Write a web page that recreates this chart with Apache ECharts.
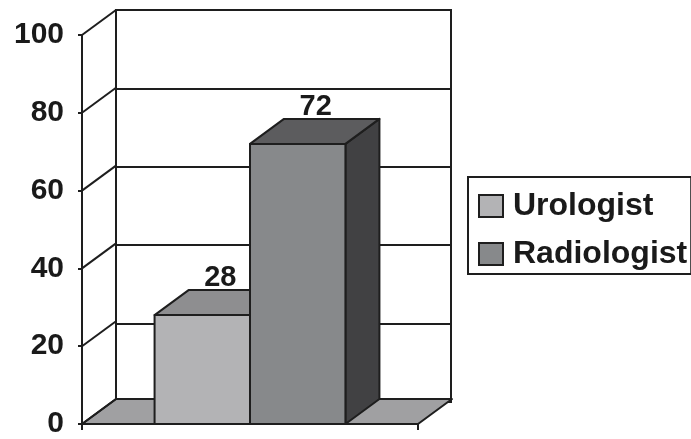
<!DOCTYPE html>
<html>
<head>
<meta charset="utf-8">
<script src="https://cdn.jsdelivr.net/npm/echarts@6/dist/echarts.min.js"></script>
<style>
  html, body { margin: 0; padding: 0; background: #fff; }
  #chart { width: 691px; height: 439px; }
</style>
</head>
<body>
<div id="chart"></div>
<script>
// Chart data
const categories = [''];
const seriesNames = ['Urologist', 'Radiologist'];
const urologistValues = [28];
const radiologistValues = [72];
const yTicks = [0, 20, 40, 60, 80, 100];

// Look of the 3-D box
const DEPTH_X = 34;
const DEPTH_Y = -25;
const BAR_SHARE = 0.284;        // each bar's share of the category width
const FONT = '"Liberation Sans", Arial, sans-serif';
const LINE = '#1e1e1e';

const faceColors = {
  Urologist:   { front: '#b3b3b5', top: '#8e8e90', side: '#7a7a7c' },
  Radiologist: { front: '#87898b', top: '#5c5c5e', side: '#414143' }
};

const chart = echarts.init(document.getElementById('chart'), null, { renderer: 'canvas' });

// Bar drawn as a front face, a top face and a right side face
function barRenderer(name, slot) {
  const c = faceColors[name];
  return function (params, api) {
    const v = api.value(1);
    const top = api.coord([api.value(0), v]);
    const base = api.coord([api.value(0), 0]);
    const catW = api.size([1, 0])[0];
    const bw = catW * BAR_SHARE;
    const x0 = top[0] - bw + slot * bw;
    const x1 = x0 + bw;
    const yt = top[1], yb = base[1];
    const st = { stroke: LINE, lineWidth: 2, lineJoin: 'round' };
    return {
      type: 'group',
      children: [
        { type: 'polygon', shape: { points: [[x1, yt], [x1 + DEPTH_X, yt + DEPTH_Y], [x1 + DEPTH_X, yb + DEPTH_Y], [x1, yb]] },
          style: Object.assign({ fill: c.side }, st) },
        { type: 'polygon', shape: { points: [[x0, yt], [x0 + DEPTH_X, yt + DEPTH_Y], [x1 + DEPTH_X, yt + DEPTH_Y], [x1, yt]] },
          style: Object.assign({ fill: c.top }, st) },
        { type: 'rect', shape: { x: x0, y: yt, width: bw, height: yb - yt },
          style: Object.assign({ fill: c.front }, st) },
        { type: 'text', x: (x0 + x1) / 2 + DEPTH_X / 2 + 1, y: yt + DEPTH_Y - 12,
          style: { text: String(v), fill: '#1a1a1a', font: 'bold 29px ' + FONT, align: 'center', verticalAlign: 'middle' } }
      ]
    };
  };
}

// Floor of the box and the slanted lines joining the front axis to the back wall
function frameRenderer(params, api) {
  const v = api.value(0);
  const p = api.coord([0, v]);
  const catW = api.size([1, 0])[0];
  const xl = p[0] - catW / 2;
  const xr = p[0] + catW / 2;
  const children = [
    { type: 'line', shape: { x1: xl, y1: p[1], x2: xl + DEPTH_X, y2: p[1] + DEPTH_Y },
      style: { stroke: LINE, lineWidth: 2 } }
  ];
  if (v === 0) {
    children.unshift({
      type: 'polygon',
      shape: { points: [[xl, p[1]], [xr, p[1]], [xr + DEPTH_X, p[1] + DEPTH_Y], [xl + DEPTH_X, p[1] + DEPTH_Y]] },
      style: { fill: '#a0a0a2', stroke: LINE, lineWidth: 2, lineJoin: 'round' }
    });
  }
  return { type: 'group', children: children };
}

const option = {
  backgroundColor: '#ffffff',
  animation: false,
  grid: [
    // front plane
    { left: 82, top: 35, width: 336, height: 392 },
    // back wall
    { left: 116, top: 10, width: 335, height: 392, show: true, borderColor: LINE, borderWidth: 2, backgroundColor: 'transparent' }
  ],
  xAxis: [
    { gridIndex: 0, type: 'category', data: categories, boundaryGap: true,
      axisLine: { show: true, lineStyle: { color: LINE, width: 2 } },
      axisTick: { show: true, length: 6, lineStyle: { color: LINE, width: 2 } },
      axisLabel: { show: false }, z: 5 },
    { gridIndex: 1, type: 'category', data: categories, show: false }
  ],
  yAxis: [
    { gridIndex: 0, type: 'value', min: 0, max: 100, interval: 20,
      axisLine: { show: true, lineStyle: { color: LINE, width: 2 } },
      axisTick: { show: true, length: 4, lineStyle: { color: LINE, width: 2 } },
      axisLabel: { color: '#1a1a1a', fontFamily: FONT, fontWeight: 'bold', fontSize: 30, margin: 18 },
      splitLine: { show: false } },
    { gridIndex: 1, type: 'value', min: 0, max: 100, interval: 20,
      axisLine: { show: false }, axisTick: { show: false }, axisLabel: { show: false },
      splitLine: { show: true, lineStyle: { color: LINE, width: 2 } } }
  ],
  legend: {
    data: seriesNames,
    orient: 'vertical',
    left: 468, top: 177,
    padding: [13, 4, 4, 10],
    itemGap: 16,
    itemWidth: 24, itemHeight: 22,
    icon: 'rect',
    borderColor: LINE, borderWidth: 2,
    itemStyle: { borderColor: LINE, borderWidth: 2 },
    textStyle: { color: '#1a1a1a', fontFamily: FONT, fontWeight: 'bold', fontSize: 32, lineHeight: 32, padding: [0, 0, 0, 5] }
  },
  series: [
    { type: 'custom', name: 'frame', xAxisIndex: 0, yAxisIndex: 0, z: 1, silent: true,
      data: yTicks.map(t => [t]), renderItem: frameRenderer },
    { type: 'custom', name: seriesNames[0], xAxisIndex: 0, yAxisIndex: 0, z: 3,
      itemStyle: { color: faceColors.Urologist.front },
      data: urologistValues.map((v, i) => [i, v]), renderItem: barRenderer(seriesNames[0], 0) },
    { type: 'custom', name: seriesNames[1], xAxisIndex: 0, yAxisIndex: 0, z: 4,
      itemStyle: { color: faceColors.Radiologist.front },
      data: radiologistValues.map((v, i) => [i, v]), renderItem: barRenderer(seriesNames[1], 1) }
  ]
};

chart.setOption(option);
</script>
</body>
</html>
